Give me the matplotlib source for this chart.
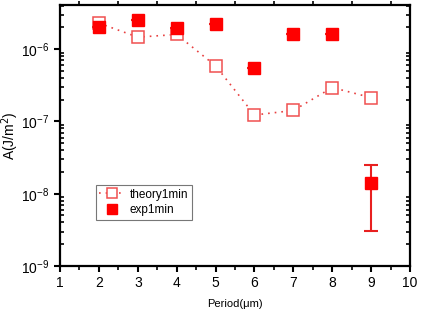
import matplotlib
matplotlib.use("Agg")
import matplotlib.pyplot as plt
from matplotlib.ticker import LogLocator, MultipleLocator, FixedLocator
from matplotlib.lines import Line2D

plt.rcParams['font.family'] = ['Liberation Sans', 'DejaVu Sans']

period = [2, 3, 4, 5, 6, 7, 8, 9]
theory = [2.3e-6, 1.47e-6, 1.6e-6, 5.9e-7, 1.23e-7, 1.42e-7, 2.95e-7, 2.14e-7]
exp_vals = [2.0e-6, 2.55e-6, 1.95e-6, 2.24e-6, 5.5e-7, 1.65e-6, 1.65e-6, 1.4e-8]
exp_err_low = [0, 0, 0, 0, 0, 0, 0, 1.4e-8 - 3.05e-9]
exp_err_high = [0, 0, 0, 0, 0, 0, 0, 2.5e-8 - 1.4e-8]

fig = plt.figure(figsize=(4.21, 3.10), dpi=100)
ax = fig.add_axes([0.1425, 0.142, 0.8315, 0.842])

th_line, = ax.plot(period, theory, linestyle=(0, (1, 3)), color='#e84040', lw=1.2,
                   marker='s', markersize=8, markerfacecolor='white',
                   markeredgecolor='#f05050', markeredgewidth=1.1, zorder=3)
ax.errorbar(period, exp_vals, yerr=[exp_err_low, exp_err_high], fmt='s',
            color='#ff0000', ecolor='#e82020', elinewidth=1.5, capsize=5, capthick=1.5,
            markersize=8, zorder=4)

ax.set_yscale('log')
ax.set_xlim(1, 10)
ax.set_ylim(1e-9, 4.1e-6)
ax.xaxis.set_major_locator(MultipleLocator(1))
ax.xaxis.set_minor_locator(MultipleLocator(0.5))
ax.yaxis.set_major_locator(FixedLocator([1e-9, 1e-8, 1e-7, 1e-6]))
ax.yaxis.set_minor_locator(LogLocator(base=10, subs=range(2, 10)))
ax.yaxis.set_minor_formatter(matplotlib.ticker.NullFormatter())

for s in ax.spines.values():
    s.set_linewidth(1.6)

ax.tick_params(axis='both', which='major', direction='out', length=4, width=1.5,
               labelsize=10, top=False, right=False)
ax.tick_params(axis='y', which='minor', direction='in', length=3, width=1.2, right=True)
ax.tick_params(axis='x', which='minor', direction='out', length=3, width=1.2, top=True)

ax.set_xlabel('Period(\u03bcm)', fontsize=8, labelpad=6)
ax.set_ylabel('A(J/m$^2$)', fontsize=10)
ax.yaxis.set_label_coords(-0.11, 0.5)

h_th = Line2D([], [], linestyle=(0, (1, 3)), color='#e84040', lw=1.2, marker='s',
              markersize=7, markerfacecolor='white', markeredgecolor='#f05050',
              markeredgewidth=1.1)
h_ex = Line2D([], [], linestyle='none', marker='s', markersize=7, color='#ff0000')
leg = ax.legend([h_th, h_ex], ['theory1min', 'exp1min'], loc='lower left',
                bbox_to_anchor=(0.085, 0.155), fontsize=8.5,
                frameon=True, fancybox=False, edgecolor='#555555', borderpad=0.3,
                handlelength=2.2, labelspacing=0.3, handletextpad=0.4)
leg.get_frame().set_linewidth(0.8)

fig.savefig('out.png', dpi=100)
